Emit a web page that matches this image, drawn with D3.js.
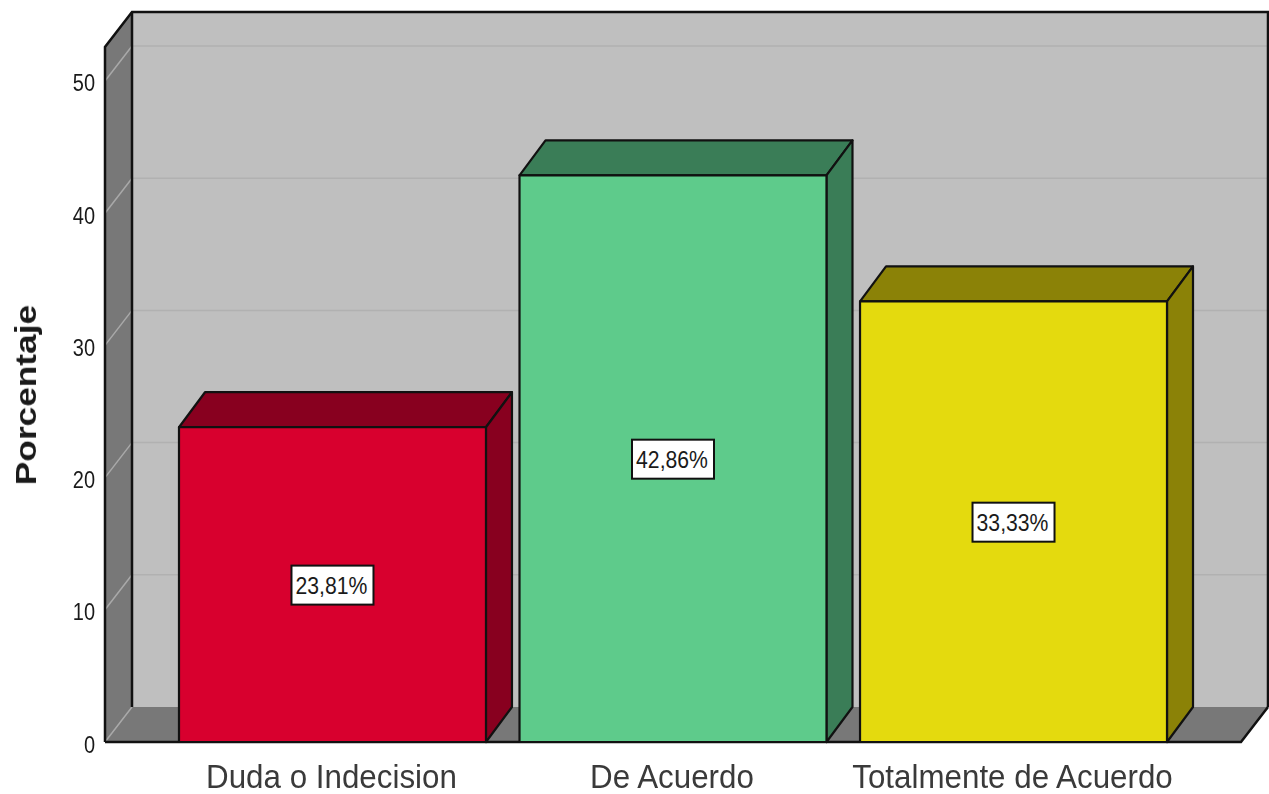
<!DOCTYPE html>
<html>
<head>
<meta charset="utf-8">
<script src="https://cdn.jsdelivr.net/npm/d3@7"></script>
<style>
html, body { margin: 0; padding: 0; background: #fff; overflow: hidden; }
svg { display: block; filter: blur(0.5px); }
text { font-family: "Liberation Sans", Arial, sans-serif; fill: #1a1a1a; }
</style>
</head>
<body>
<div id="chart"></div>
<script>
const categories = ["Duda o Indecision", "De Acuerdo", "Totalmente de Acuerdo"];
const values = [23.81, 42.86, 33.33];
const valueLabels = ["23,81%", "42,86%", "33,33%"];
const frontColors = ["#d8002e", "#5ecb8b", "#e4da0e"];
const sideColors = ["#88001f", "#3a7d57", "#8b8207"];
const yTicks = [0, 10, 20, 30, 40, 50];

const width = 1269, height = 794;
const plot = { left: 105, right: 1241, bottom: 742, top: 47 };
const depth = { x: 27, y: -35 };
const barDepthX = 26;
const edge = "#111";

const svg = d3.select("#chart").append("svg")
    .attr("width", width)
    .attr("height", height);

const x = d3.scaleBand()
    .domain(categories)
    .range([plot.left, plot.right])
    .paddingInner(0.0985)
    .paddingOuter(0.2173);

const y = d3.scaleLinear()
    .domain([0, 52.57])
    .range([plot.bottom, plot.top]);

const poly = pts => pts.map(p => p.join(",")).join(" ");

// back wall, side wall, floor
const yTop = y.range()[1], yBase = y.range()[0];
svg.append("rect")
    .attr("x", plot.left + depth.x).attr("y", yTop + depth.y)
    .attr("width", plot.right - plot.left)
    .attr("height", yBase - yTop)
    .attr("fill", "#bfbfbf");

svg.append("polygon")
    .attr("points", poly([[plot.left, yBase], [plot.left, yTop], [plot.left + depth.x, yTop + depth.y], [plot.left + depth.x, yBase + depth.y]]))
    .attr("fill", "#787878");

svg.append("polygon")
    .attr("points", poly([[plot.left, yBase], [plot.right, yBase], [plot.right + depth.x, yBase + depth.y], [plot.left + depth.x, yBase + depth.y]]))
    .attr("fill", "#787878");

// grid lines on wall
const grid = svg.append("g");
yTicks.forEach(t => {
    grid.append("line")
        .attr("x1", plot.left).attr("y1", y(t))
        .attr("x2", plot.left + depth.x).attr("y2", y(t) + depth.y)
        .attr("stroke", "#a9a9a9").attr("stroke-width", 1.5);
    if (t > 0) {
        grid.append("line")
            .attr("x1", plot.left + depth.x).attr("y1", y(t) + depth.y)
            .attr("x2", plot.right + depth.x).attr("y2", y(t) + depth.y)
            .attr("stroke", "#b1b1b1").attr("stroke-width", 1.5);
    }
});

// frame edges
const frame = [
    [[plot.left, yBase], [plot.left, yTop], [plot.left + depth.x, yTop + depth.y], [plot.right + depth.x, yTop + depth.y], [plot.right + depth.x, yBase + depth.y]],
    [[plot.left + depth.x, yTop + depth.y], [plot.left + depth.x, yBase + depth.y]],
    [[plot.right + depth.x, yBase + depth.y], [plot.right, yBase], [plot.left, yBase]]
];
frame.forEach(f => {
    svg.append("polyline")
        .attr("points", poly(f))
        .attr("fill", "none")
        .attr("stroke", edge)
        .attr("stroke-width", 2.5);
});

// bars
const bars = svg.selectAll("g.bar")
    .data(categories)
    .enter()
    .append("g")
    .attr("class", "bar");

bars.append("polygon")
    .attr("points", (d, i) => {
        const a = x(d), b = a + x.bandwidth(), t = y(values[i]);
        return poly([[a, t], [a + barDepthX, t + depth.y], [b + barDepthX, t + depth.y], [b, t]]);
    })
    .attr("fill", (d, i) => sideColors[i]);

bars.append("polygon")
    .attr("points", (d, i) => {
        const b = x(d) + x.bandwidth(), t = y(values[i]);
        return poly([[b, t], [b + barDepthX, t + depth.y], [b + barDepthX, yBase + depth.y], [b, yBase]]);
    })
    .attr("fill", (d, i) => sideColors[i]);

bars.append("rect")
    .attr("x", d => x(d))
    .attr("y", (d, i) => y(values[i]))
    .attr("width", x.bandwidth())
    .attr("height", (d, i) => yBase - y(values[i]))
    .attr("fill", (d, i) => frontColors[i]);

bars.selectAll("polygon, rect")
    .attr("stroke", edge)
    .attr("stroke-width", 2.2)
    .attr("stroke-linejoin", "round");

// value boxes
const boxes = bars.append("g")
    .attr("transform", (d, i) => `translate(${x(d) + x.bandwidth() / 2},${y(values[i] / 2) + 1})`);

boxes.append("rect")
    .attr("x", -41).attr("y", -20)
    .attr("width", 82).attr("height", 39)
    .attr("fill", "#fff")
    .attr("stroke", edge)
    .attr("stroke-width", 2);

boxes.append("text")
    .attr("text-anchor", "middle")
    .attr("transform", "translate(-1,8) scale(1.06,1.15)")
    .attr("font-size", 20)
    .text((d, i) => valueLabels[i]);

// axes
const yAxis = svg.append("g")
    .attr("transform", `translate(${plot.left},0)`)
    .call(d3.axisLeft(y).tickValues(yTicks).tickSize(0).tickPadding(10));
yAxis.attr("font-family", null);
yAxis.select(".domain").remove();
yAxis.selectAll("text")
    .attr("font-size", 20)
    .attr("dy", null)
    .attr("x", null)
    .attr("transform", "translate(-10,10) scale(1,1.15)");

const xAxis = svg.append("g")
    .attr("transform", `translate(0,${plot.bottom})`)
    .call(d3.axisBottom(x).tickSize(0).tickPadding(0));
xAxis.attr("font-family", null);
xAxis.select(".domain").remove();
xAxis.selectAll("text")
    .style("fill", "#3a3a3a")
    .attr("font-size", 33)
    .attr("y", null)
    .attr("dy", null)
    .attr("transform", "translate(-1,46) scale(0.95,1)");

svg.append("text")
    .attr("transform", "translate(36,395) rotate(-90) scale(1.216,1)")
    .attr("text-anchor", "middle")
    .attr("font-size", 29)
    .attr("font-weight", "bold")
    .text("Porcentaje");
</script>
</body>
</html>
